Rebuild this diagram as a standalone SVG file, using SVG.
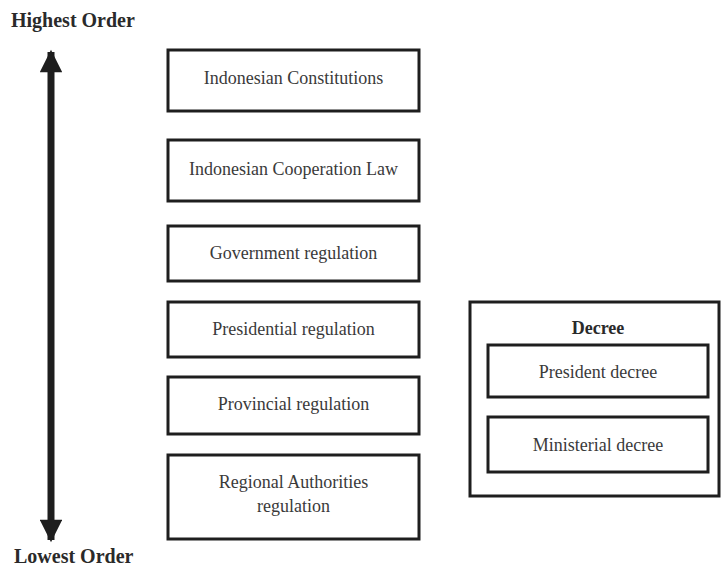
<svg xmlns="http://www.w3.org/2000/svg" width="721" height="570" viewBox="0 0 721 570">
<style>
.box{fill:#fff;stroke:#1e1e1e;stroke-width:3}
.t{font-family:"Liberation Serif",serif;font-size:18px;fill:#3a3a3a;text-anchor:middle}
.b{font-family:"Liberation Serif",serif;font-size:20px;font-weight:bold;fill:#2a2a2a}
</style>
<defs>
<marker id="ah" viewBox="0 0 10 10" refX="9" refY="5" markerWidth="3.4" markerHeight="3.2" orient="auto-start-reverse" markerUnits="strokeWidth">
<path d="M0,0 L10,5 L0,10 z" fill="#1e1e1e"/>
</marker>
</defs>
<rect width="721" height="570" fill="#fff"/>
<text class="b" x="11" y="27">Highest Order</text>
<text class="b" x="14" y="563">Lowest Order</text>
<g id="connectors">
<line x1="51" y1="52" x2="51" y2="540" stroke="#1e1e1e" stroke-width="7" marker-start="url(#ah)" marker-end="url(#ah)"/>
</g>
<g id="n1"><rect class="box" x="168" y="50" width="251" height="61"/><text class="t" x="293.5" y="84">Indonesian Constitutions</text></g>
<g id="n2"><rect class="box" x="168" y="140" width="251" height="61"/><text class="t" x="293.5" y="175">Indonesian Cooperation Law</text></g>
<g id="n3"><rect class="box" x="168" y="226" width="251" height="55"/><text class="t" x="293.5" y="259">Government regulation</text></g>
<g id="n4"><rect class="box" x="168" y="302" width="251" height="55"/><text class="t" x="293.5" y="335">Presidential regulation</text></g>
<g id="n5"><rect class="box" x="168" y="377" width="251" height="57"/><text class="t" x="293.5" y="410">Provincial regulation</text></g>
<g id="n6"><rect class="box" x="168" y="455" width="251" height="84"/><text class="t" x="293.5" y="488">Regional Authorities</text><text class="t" x="293.5" y="512">regulation</text></g>
<g id="decree"><rect class="box" x="470" y="302" width="249" height="194"/><text class="b" x="598" y="334" text-anchor="middle" style="font-size:18px">Decree</text></g>
<g id="n7"><rect class="box" x="488" y="345" width="220" height="52"/><text class="t" x="598" y="378">President decree</text></g>
<g id="n8"><rect class="box" x="488" y="417" width="220" height="55"/><text class="t" x="598" y="451">Ministerial decree</text></g>
</svg>
